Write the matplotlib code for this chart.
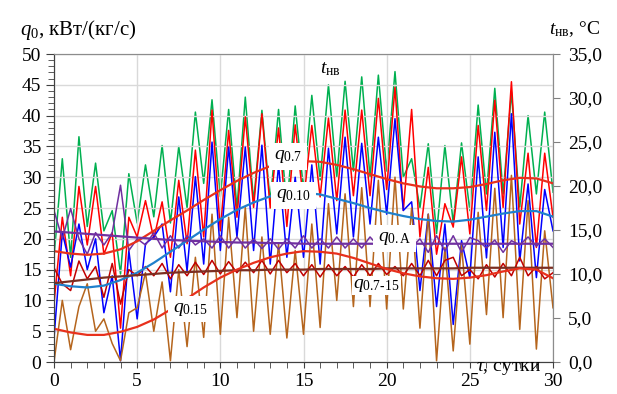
import numpy as np
import matplotlib
matplotlib.use("Agg")
import matplotlib.pyplot as plt
from matplotlib.ticker import MultipleLocator, FuncFormatter

plt.rcParams['font.family'] = ['Liberation Serif', 'DejaVu Serif']
plt.rcParams['mathtext.fontset'] = 'custom'
plt.rcParams['mathtext.rm'] = 'Liberation Serif'
plt.rcParams['mathtext.it'] = 'Liberation Serif:italic'

# time grid of the raw series: every half day, 0 ... 30 days
tau = np.arange(0, 30.01, 0.5)
# time grid of the trend lines: every day
tau_trend = np.arange(0, 31)

# outdoor air temperature, degC (right axis)
t_nv = [11.9, 23.1, 11.9, 25.6, 15.4, 22.6, 14.9, 17.2, 10.0, 21.4,
        15.8, 22.4, 16.5, 24.6, 15.8, 24.5, 17.5, 28.4, 20.3, 29.8,
        18.8, 28.7, 17.5, 30.1, 18.2, 28.6, 18.2, 28.7, 17.5, 29.1,
        19.6, 30.3, 20.7, 31.5, 21.0, 31.9, 21.7, 32.4, 21.0, 32.6,
        21.7, 33.0, 21.0, 23.1, 17.5, 24.8, 14.6, 24.6, 15.8, 24.9,
        17.2, 29.2, 19.1, 31.1, 19.1, 30.7, 17.6, 28.0, 19.1, 28.4,
        19.3]

# specific cooling loads, kW/(kg/s)
q_07 = [9.5, 23.5, 14.0, 28.5, 19.0, 28.5, 17.5, 21.0, 5.5, 23.5,
        20.3, 26.2, 20.0, 26.0, 17.0, 29.5, 19.2, 34.4, 20.3, 40.9,
        21.3, 37.6, 23.5, 39.8, 25.1, 40.3, 25.0, 38.0, 22.0, 38.5,
        26.0, 38.4, 26.8, 39.6, 26.2, 40.9, 27.0, 40.9, 27.0, 42.8,
        28.0, 44.6, 24.6, 41.0, 20.3, 31.6, 17.5, 25.7, 21.9, 33.3,
        20.8, 38.4, 24.6, 42.5, 25.1, 45.5, 22.4, 33.9, 18.6, 33.9,
        23.5]

q_010 = [3.9, 21.0, 15.4, 22.4, 15.0, 20.0, 8.0, 14.0, 0.2, 18.1,
         7.0, 19.2, 20.3, 22.4, 11.4, 26.8, 14.8, 30.1, 15.9, 35.7,
         18.1, 34.9, 20.3, 34.9, 18.1, 35.2, 15.9, 32.0, 17.0, 30.0,
         17.0, 32.0, 15.9, 34.7, 20.8, 36.5, 20.3, 35.5, 22.4, 36.5,
         24.0, 39.5, 24.6, 26.0, 11.6, 24.0, 9.0, 22.4, 6.1, 19.7,
         13.7, 33.3, 16.9, 37.3, 18.6, 40.3, 16.4, 28.9, 13.7, 28.0,
         21.3]

q_015 = [0.0, 10.0, 2.0, 9.0, 12.7, 5.0, 7.0, 3.0, 0.2, 8.0,
         8.8, 14.5, 5.0, 13.0, 0.2, 15.0, 2.5, 17.0, 4.0, 24.0,
         4.5, 23.5, 7.2, 25.1, 5.0, 20.3, 4.5, 19.2, 3.9, 18.1,
         4.5, 22.4, 5.6, 25.7, 10.0, 27.3, 9.0, 28.3, 9.0, 29.5,
         8.6, 30.0, 8.6, 25.0, 5.5, 24.0, 0.2, 18.6, 1.8, 19.0,
         2.9, 24.3, 7.7, 28.2, 7.2, 30.3, 5.3, 26.2, 2.1, 21.3,
         8.8]

q_0A = [24.6, 20.0, 24.9, 20.0, 17.5, 21.0, 19.0, 21.0, 28.7, 18.1,
        20.0, 19.0, 21.0, 18.5, 20.5, 18.5, 20.5, 19.0, 20.0, 18.5,
        20.5, 18.5, 20.3, 18.5, 20.0, 18.4, 20.0, 18.3, 20.0, 18.5,
        20.5, 18.5, 20.0, 18.5, 20.3, 18.5, 20.0, 18.5, 20.3, 18.8,
        20.2, 18.6, 20.0, 18.6, 20.0, 17.8, 20.5, 18.0, 20.5, 17.8,
        20.2, 19.7, 18.5, 19.8, 17.8, 19.7, 19.0, 20.3, 18.8, 20.0,
        18.6]

q_07_15 = [15.3, 12.7, 11.6, 16.4, 13.5, 15.5, 10.5, 16.0, 9.4, 15.0,
           14.0, 15.5, 14.0, 16.0, 13.5, 15.8, 14.0, 16.2, 14.2, 16.5,
           14.3, 16.3, 14.5, 16.2, 14.5, 16.5, 14.3, 16.5, 14.5, 16.0,
           14.0, 15.8, 13.8, 15.8, 14.0, 15.5, 13.8, 15.8, 14.0, 16.0,
           14.2, 15.5, 14.0, 16.0, 14.0, 16.5, 14.0, 16.5, 17.0, 14.0,
           15.0, 13.5, 15.8, 13.8, 16.0, 14.0, 17.0, 14.0, 15.5, 13.5,
           14.5]

# trend lines (daily values)
trend_07 = [18.0, 17.6, 17.4, 17.6, 18.3, 19.6, 21.3, 23.0, 24.6, 26.3,
            27.9, 29.4, 30.7, 31.8, 32.4, 32.6, 32.5, 32.0, 31.3, 30.5,
            29.7, 29.0, 28.5, 28.2, 28.2, 28.4, 28.9, 29.5, 29.9, 29.8,
            29.0]
trend_010 = [12.7, 12.3, 12.1, 12.4, 13.3, 14.5, 16.1, 17.9, 19.7, 21.5,
             23.2, 24.7, 25.9, 26.9, 27.4, 27.5, 27.2, 26.5, 25.8, 25.0,
             24.3, 23.7, 23.2, 22.9, 22.8, 23.1, 23.6, 24.1, 24.5, 24.5,
             23.6]
trend_015 = [5.4, 4.8, 4.4, 4.4, 4.9, 5.7, 6.9, 8.5, 10.3, 12.1,
             13.7, 15.0, 16.1, 17.0, 17.6, 18.0, 17.9, 17.6, 16.9, 16.0,
             15.1, 14.4, 13.9, 13.6, 13.5, 13.7, 14.1, 14.7, 15.2, 15.0,
             13.6]
trend_0A = [21.2, 21.0, 20.8, 20.6, 20.4, 20.2, 20.0, 19.8, 19.7, 19.6,
            19.5, 19.4, 19.4, 19.3, 19.3, 19.2, 19.2, 19.2, 19.2, 19.2,
            19.2, 19.2, 19.2, 19.2, 19.2, 19.2, 19.2, 19.2, 19.2, 19.2,
            19.2]
trend_07_15 = [12.8, 13.1, 13.4, 13.7, 13.9, 14.1, 14.3, 14.5, 14.6, 14.7,
               14.8, 14.9, 14.9, 15.0, 15.0, 15.0, 15.1, 15.1, 15.1, 15.1,
               15.2, 15.2, 15.2, 15.2, 15.2, 15.3, 15.3, 15.3, 15.3, 15.3,
               15.3]

fig = plt.figure(figsize=(6.17, 3.94), dpi=100)
ax = fig.add_axes([0.0875, 0.0812, 0.8088, 0.7817])
ax2 = ax.twinx()
# left axis above the right one, so the temperature curve stays in the back
ax.set_zorder(ax2.get_zorder() + 1)
ax.patch.set_visible(False)

ax2.plot(tau, t_nv, color='#00B050', lw=1.1)

ax.plot(tau, q_07, color='#FF0000', lw=1.1)
ax.plot(tau, q_010, color='#0000FF', lw=1.1)
ax.plot(tau, q_015, color='#B5651D', lw=1.1)
ax.plot(tau, q_0A, color='#7030A0', lw=1.1)
ax.plot(tau, q_07_15, color='#C00000', lw=1.1)

ax.plot(tau_trend, trend_07, color='#E8301C', lw=1.6)
ax.plot(tau_trend, trend_010, color='#1F80CC', lw=1.6)
ax.plot(tau_trend, trend_0A, color='#7030A0', lw=1.6)
ax.plot(tau_trend, trend_07_15, color='#7B2E22', lw=1.6)
ax.plot(tau_trend, trend_015, color='#E8301C', lw=1.6)

ax.set_xlim(0, 30)
ax.set_ylim(0, 50)
ax2.set_ylim(0, 35)

ax.xaxis.set_major_locator(MultipleLocator(5))
ax.xaxis.set_minor_locator(MultipleLocator(1))
ax.yaxis.set_major_locator(MultipleLocator(5))
ax.yaxis.set_minor_locator(MultipleLocator(1))
ax2.yaxis.set_major_locator(MultipleLocator(5))
ax2.yaxis.set_major_formatter(FuncFormatter(lambda v, p: f"{v:.1f}".replace('.', ',')))

ax.grid(True, which='major', color='#D9D9D9', lw=1.0)
ax.set_axisbelow(True)

ax.tick_params(axis='both', which='major', labelsize=14, direction='out', color='#404040')
ax.tick_params(axis='y', which='major', length=6, pad=3)
ax.tick_params(axis='y', which='minor', length=4, color='#404040')
ax.tick_params(axis='x', which='major', length=4, pad=4)
ax.tick_params(axis='x', which='minor', length=4, color='#404040')
ax2.tick_params(axis='y', which='major', labelsize=14, length=5, pad=6, color='#808080')

for a in (ax, ax2):
    a.spines['left'].set_color('#404040')
    a.spines['bottom'].set_color('#404040')
    a.spines['top'].set_color('#8C8C8C')
    a.spines['right'].set_color('#8C8C8C')

box = dict(boxstyle='square,pad=0.25', fc='white', ec='none')
label_kw = dict(fontsize=14, ha='left', va='center', zorder=10)
ax.text(13.2, 33.4, r'$q_{\mathrm{0.7}}$', bbox=box, **label_kw)
ax.text(13.35, 27.0, r'$q_{\mathrm{0.10}}$', bbox=box, **label_kw)
ax.text(19.45, 20.0, r'$q_{\mathrm{0.A}}$', bbox=box, **label_kw)
ax.text(18.0, 12.4, r'$q_{\mathrm{0.7‐15}}$',
        bbox=dict(boxstyle='square,pad=0.05', fc='white', ec='none'), **label_kw)
ax.text(7.15, 8.6, r'$q_{\mathrm{0.15}}$', bbox=box, **label_kw)
ax.text(16.0, 47.6, r'$t_{\mathrm{нв}}$', **label_kw)

fig.text(0.032, 0.923, r'$q_0$, кВт/(кг/с)', fontsize=15, ha='left', va='center')
fig.text(0.889, 0.926, r'$t_{\mathrm{нв}}$, °C', fontsize=14, ha='left', va='center')
fig.text(0.771, 0.064, r'$\tau$, сутки', fontsize=14, ha='left', va='center')

fig.savefig('out.png', dpi=100)
